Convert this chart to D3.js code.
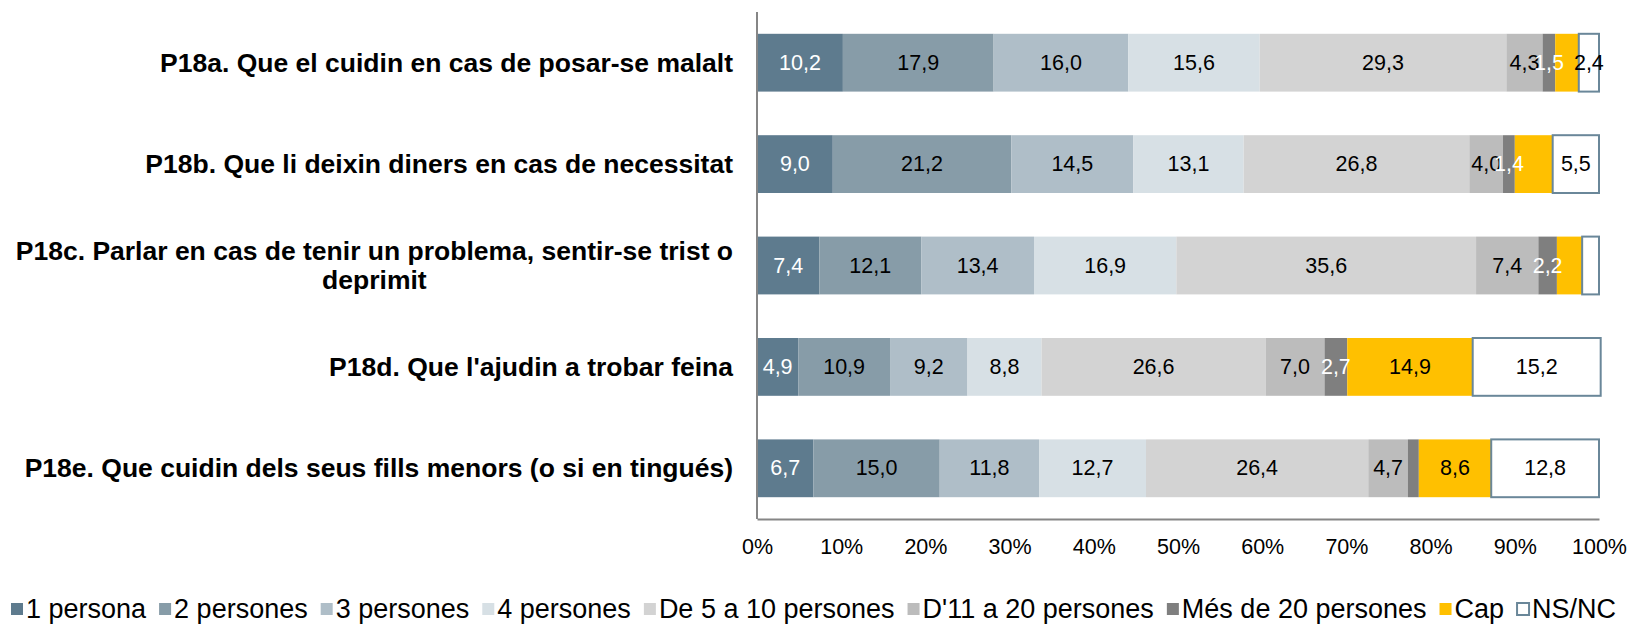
<!DOCTYPE html>
<html>
<head>
<meta charset="utf-8">
<script src="https://cdn.jsdelivr.net/npm/d3@7"></script>
<style>
  body { margin: 0; background: #fff; }
  svg { font-family: "Liberation Sans", Arial, sans-serif; }
</style>
</head>
<body>
<div id="chart"></div>
<script>
// Categories (top to bottom)
var questions = [
    "P18a. Que el cuidin en cas de posar-se malalt",
    "P18b. Que li deixin diners en cas de necessitat",
    "P18c. Parlar en cas de tenir un problema, sentir-se trist o deprimit",
    "P18d. Que l'ajudin a trobar feina",
    "P18e. Que cuidin dels seus fills menors (o si en tingués)"
];

// Series names
var seriesNames = ["1 persona", "2 persones", "3 persones", "4 persones", "De 5 a 10 persones",
    "D'11 a 20 persones", "Més de 20 persones", "Cap", "NS/NC"];

// Values per series, one per question
var una = [10.2, 9.0, 7.4, 4.9, 6.7];
var dues = [17.9, 21.2, 12.1, 10.9, 15.0];
var tres = [16.0, 14.5, 13.4, 9.2, 11.8];
var quatre = [15.6, 13.1, 16.9, 8.8, 12.7];
var de5a10 = [29.3, 26.8, 35.6, 26.6, 26.4];
var de11a20 = [4.3, 4.0, 7.4, 7.0, 4.7];
var mesDe20 = [1.5, 1.4, 2.2, 2.7, 1.3];
var cap = [2.8, 4.5, 3.0, 14.9, 8.6];
var nsnc = [2.4, 5.5, 2.0, 15.2, 12.8];

// segments without a value label in the original [question index, series index]
var noLabel = [[0, 7], [1, 7], [2, 7], [2, 8], [4, 6]];

var tickValues = [0, 10, 20, 30, 40, 50, 60, 70, 80, 90, 100];

var seriesValues = [una, dues, tres, quatre, de5a10, de11a20, mesDe20, cap, nsnc];
var colors = ["#5e7b8e", "#879ca8", "#afbec8", "#d7e0e5", "#d3d3d3", "#bcbcbc", "#7f7f7f", "#ffc000", "#ffffff"];
var labelColors = ["#fff", "#000", "#000", "#000", "#000", "#000", "#fff", "#000", "#000"];

var svgWidth = 1632;
var svgHeight = 626;

var margin = { top: 12, right: 33, bottom: 107, left: 757 };
var chartWidth = svgWidth - margin.left - margin.right;
var chartHeight = svgHeight - margin.top - margin.bottom;

var svg = d3.select('#chart')
    .append('svg')
    .attr('width', svgWidth)
    .attr('height', svgHeight);

var chartGroup = svg.append('g')
    .attr('transform', `translate(${margin.left}, ${margin.top})`);

// build rows for the stack
var rows = questions.map(function(q, i) {
    var row = { question: q };
    seriesNames.forEach(function(s, j) { row[s] = seriesValues[j][i]; });
    return row;
});

var stacked = d3.stack().keys(seriesNames)(rows);

var xScale = d3.scaleLinear()
    .domain([0, 100])
    .range([0, chartWidth]);

var yScale = d3.scaleBand()
    .domain(questions)
    .range([0, chartHeight])
    .paddingInner(0.43)
    .paddingOuter(0.215);

// flatten segments
var segments = [];
stacked.forEach(function(layer) {
    layer.forEach(function(p, qi) {
        segments.push({ p: p, key: layer.key, idx: layer.index, qi: qi });
    });
});

// bars
chartGroup.append('g').selectAll('rect')
    .data(segments)
    .enter()
    .append('rect')
    .attr('x', d => xScale(d.p[0]))
    .attr('y', d => yScale(d.p.data.question))
    .attr('width', d => xScale(d.p[1]) - xScale(d.p[0]))
    .attr('height', yScale.bandwidth())
    .attr('fill', d => colors[d.idx])
    .attr('stroke', d => d.key === 'NS/NC' ? '#6a8799' : 'none')
    .attr('stroke-width', 2);

// value labels (drawn above all bars)
function hidden(qi, si) {
    return noLabel.some(n => n[0] === qi && n[1] === si);
}

chartGroup.append('g').selectAll('text')
    .data(segments.filter(d => !hidden(d.qi, d.idx)))
    .enter()
    .append('text')
    .attr('x', d => xScale((d.p[0] + d.p[1]) / 2))
    .attr('y', d => yScale(d.p.data.question) + yScale.bandwidth() / 2)
    .attr('text-anchor', 'middle')
    .attr('dominant-baseline', 'central')
    .attr('font-size', '21.5px')
    .attr('fill', d => labelColors[d.idx])
    .text(d => d3.format('.1f')(d.p[1] - d.p[0]).replace('.', ','));

// axes
var xAxis = d3.axisBottom(xScale)
    .tickValues(tickValues)
    .tickSize(0)
    .tickPadding(20)
    .tickFormat(d => d + '%');

var gx = chartGroup.append('g')
    .attr('transform', `translate(0, ${chartHeight})`)
    .call(xAxis);
gx.select('.domain').attr('stroke', '#868686').attr('stroke-width', 2);
gx.selectAll('text').attr('font-size', '21.5px').attr('fill', '#000')
    .attr('font-family', '"Liberation Sans", Arial, sans-serif');

chartGroup.append('line')
    .attr('x1', 0).attr('x2', 0)
    .attr('y1', 0).attr('y2', chartHeight)
    .attr('stroke', '#868686')
    .attr('stroke-width', 2);

// category labels, wrapped
var maxLabelWidth = 735;
var labelX = -24;
questions.forEach(function(q) {
    var t = chartGroup.append('text')
        .attr('x', labelX)
        .attr('text-anchor', 'end')
        .attr('font-size', '26.5px')
        .attr('font-weight', 'bold')
        .attr('fill', '#000');
    var words = q.split(' ');
    var lines = [];
    var line = [];
    var probe = t.append('tspan');
    words.forEach(function(w) {
        line.push(w);
        probe.text(line.join(' '));
        if (probe.node().getComputedTextLength() > maxLabelWidth && line.length > 1) {
            line.pop();
            lines.push(line.join(' '));
            line = [w];
        }
    });
    lines.push(line.join(' '));
    probe.remove();
    var lineH = 29;
    var cy = yScale(q) + yScale.bandwidth() / 2 - (lines.length - 1) * lineH / 2;
    lines.forEach(function(l, i) {
        t.append('tspan')
            .attr('x', labelX)
            .attr('y', cy + i * lineH)
            .attr('dominant-baseline', 'central')
            .text(l);
    });
    if (lines.length > 1) {
        // multi-line labels are centred on the widest line
        var w0 = t.select('tspan').node().getComputedTextLength();
        t.attr('text-anchor', 'middle');
        t.selectAll('tspan').attr('x', labelX - w0 / 2);
    }
});

// legend
var legend = svg.append('g')
    .attr('transform', 'translate(10, 609)');
var lx = 0;
seriesNames.forEach(function(s, i) {
    var item = legend.append('g').attr('transform', `translate(${lx}, 0)`);
    item.append('rect')
        .attr('x', 1).attr('y', -6)
        .attr('width', 12).attr('height', 12)
        .attr('fill', colors[i])
        .attr('stroke', s === 'NS/NC' ? '#6a8799' : 'none')
        .attr('stroke-width', 2);
    var txt = item.append('text')
        .attr('x', 16)
        .attr('dominant-baseline', 'central')
        .attr('font-size', '27px')
        .attr('fill', '#000')
        .text(s);
    lx += 16 + txt.node().getComputedTextLength() + 12;
});
</script>
</body>
</html>
